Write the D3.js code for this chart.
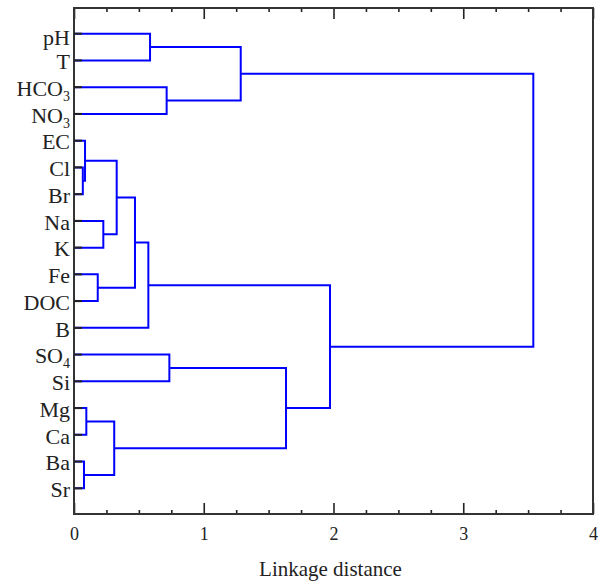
<!DOCTYPE html>
<html>
<head>
<meta charset="utf-8">
<script src="https://cdn.jsdelivr.net/npm/d3@7/dist/d3.min.js"></script>
<style>
  html, body { margin: 0; padding: 0; background: #fff; }
  svg { display: block; }
  text { font-family: "Liberation Serif", "Times New Roman", serif; fill: #222; }
</style>
</head>
<body>
<svg id="chart" width="604" height="583"></svg>
<script>
// Variables, in dendrogram order (top to bottom)
const leaves = ["pH", "T", "HCO3", "NO3", "EC", "Cl", "Br", "Na", "K", "Fe", "DOC", "B",
                "SO4", "Si", "Mg", "Ca", "Ba", "Sr"];

// Agglomeration steps: indices < leaves.length are variables,
// index leaves.length + k refers to the cluster formed at step k.
const mergeLeft   = [5, 4, 16, 14, 9, 7, 19, 21, 24, 26, 0, 2, 12, 28, 30, 27, 31];
const mergeRight  = [6, 18, 17, 15, 10, 8, 23, 20, 22, 11, 1, 3, 13, 29, 25, 32, 33];
const mergeHeight = [0.068, 0.085, 0.077, 0.095, 0.183, 0.226, 0.329, 0.31, 0.47, 0.573,
                     0.586, 0.714, 0.735, 1.285, 1.634, 1.973, 3.54];

const xTicks = [0, 1, 2, 3, 4];
const xMinorTicks = [0.25, 0.5, 0.75, 1.25, 1.5, 1.75, 2.25, 2.5, 2.75, 3.25, 3.5, 3.75];
const xTitle = "Linkage distance";

const svg = d3.select("#chart");
const frame = { left: 74, right: 593, top: 8, bottom: 514 };

const x = d3.scaleLinear().domain([0, 4]).range([frame.left, frame.right]);
const y = d3.scalePoint().domain(leaves).range([frame.top, frame.bottom]).padding(0.96);

// Build the cluster tree from the agglomeration steps
const n = leaves.length;
function build(i) {
  if (i < n) return { name: leaves[i], height: 0 };
  const k = i - n;
  return { height: mergeHeight[k], children: [build(mergeLeft[k]), build(mergeRight[k])] };
}
const root = d3.hierarchy(build(n + mergeHeight.length - 1));
root.eachAfter(d => {
  d.px = x(d.data.height);
  d.py = d.children ? d3.mean(d.children, c => c.py) : y(d.data.name);
});

// Elbow links
const linkPath = d => {
  const [a, b] = d.children;
  return `M${a.px},${a.py}H${d.px}V${b.py}H${b.px}`;
};
svg.append("g")
  .attr("fill", "none")
  .attr("stroke", "#0000ff")
  .attr("stroke-width", 2)
  .selectAll("path")
  .data(root.descendants().filter(d => d.children))
  .join("path")
  .attr("d", linkPath);

// Axes: major ticks and minor ticks point inward, top and bottom
const axisStyle = g => {
  g.select(".domain").remove();
  g.selectAll(".tick line").attr("stroke", "#222").attr("stroke-width", 1.6);
};
svg.append("g").attr("transform", `translate(0,${frame.bottom})`)
  .call(d3.axisBottom(x).tickValues(xTicks).tickSize(-11).tickFormat(d3.format("d")))
  .call(axisStyle)
  .call(g => g.selectAll(".tick text")
    .attr("y", 0).attr("dy", "1.45em")
    .style("font-size", "18px").style("font-family", "Liberation Serif, serif").attr("fill", "#222"));
svg.append("g").attr("transform", `translate(0,${frame.bottom})`)
  .call(d3.axisBottom(x).tickValues(xMinorTicks).tickSize(-4).tickFormat(""))
  .call(axisStyle);
svg.append("g").attr("transform", `translate(0,${frame.top})`)
  .call(d3.axisTop(x).tickValues(xTicks).tickSize(-11).tickFormat(""))
  .call(axisStyle);
svg.append("g").attr("transform", `translate(0,${frame.top})`)
  .call(d3.axisTop(x).tickValues(xMinorTicks).tickSize(-4).tickFormat(""))
  .call(axisStyle);

// Frame
svg.append("rect")
  .attr("x", frame.left).attr("y", frame.top)
  .attr("width", frame.right - frame.left).attr("height", frame.bottom - frame.top)
  .attr("fill", "none").attr("stroke", "#333").attr("stroke-width", 2);

// Leaf ticks on the left edge
svg.append("g")
  .attr("stroke", "#222").attr("stroke-width", 2)
  .selectAll("line")
  .data(leaves)
  .join("line")
  .attr("x1", frame.left).attr("x2", frame.left + 8)
  .attr("y1", d => y(d)).attr("y2", d => y(d));

// Leaf labels with chemical subscripts; the first label is kept clear of the top edge
const labels = svg.append("g")
  .attr("text-anchor", "end")
  .style("font-size", "22px");
labels.selectAll("text")
  .data(leaves)
  .join("text")
  .attr("x", frame.left - 4)
  .attr("y", d => Math.max(y(d) + 1, frame.top + 29))
  .attr("dy", "0.35em")
  .each(function (d) {
    const m = d.match(/^(.*?)(\d+)$/);
    const t = d3.select(this);
    if (m) {
      t.append("tspan").text(m[1]);
      t.append("tspan").attr("dy", 5).style("font-size", "14px").text(m[2]);
    } else {
      t.text(d);
    }
  });

// Axis title
svg.append("text")
  .attr("x", (frame.left + frame.right) / 2 - 3)
  .attr("y", 576)
  .attr("text-anchor", "middle")
  .style("font-size", "21px")
  .text(xTitle);
</script>
</body>
</html>
